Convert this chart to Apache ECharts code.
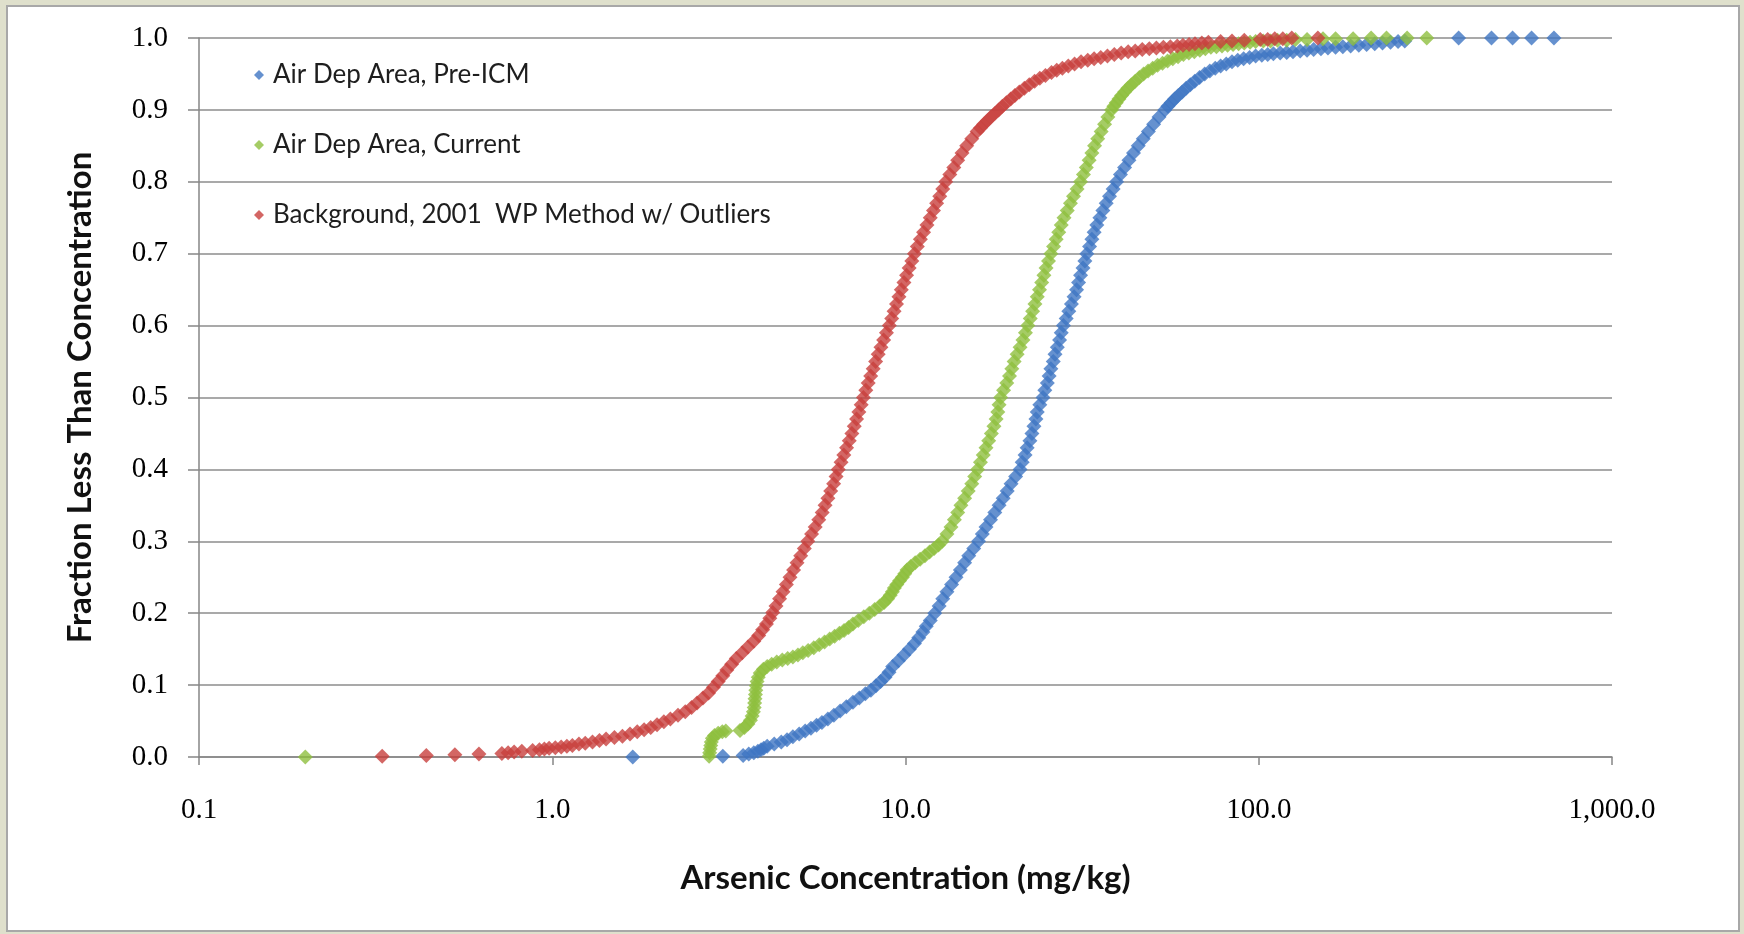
<!DOCTYPE html>
<html><head><meta charset="utf-8">
<script src="https://cdn.jsdelivr.net/npm/echarts@6/dist/echarts.min.js"></script>
<style>
html,body{margin:0;padding:0;background:#dfe0cc;width:1744px;height:934px;overflow:hidden}
#panel{position:absolute;left:6px;top:5px;width:1734px;height:927px;background:#fff;border:2px solid #a8a8a8;box-sizing:border-box}
#chart{position:absolute;left:0;top:0;width:1744px;height:934px}
</style></head><body><div id="panel"></div><div id="chart"></div>
<script>
const seriesNames = ['Air Dep Area, Pre-ICM', 'Air Dep Area, Current', 'Background, 2001  WP Method w/ Outliers'];
const xTitle = 'Arsenic Concentration (mg/kg)';
const yTitle = 'Fraction Less Than Concentration';
const xTickLabels = ['0.1', '1.0', '10.0', '100.0', '1,000.0'];
const yTickLabels = ['0.0','0.1','0.2','0.3','0.4','0.5','0.6','0.7','0.8','0.9','1.0'];
const colors = ['#3f76c3', '#8fbf3f', '#c8403d'];

// [concentration mg/kg, fraction less than]
const preICM = [[1.69,0.000],[3.04,0.001],[3.47,0.002],[3.60,0.004],[3.72,0.006],[3.82,0.008],[3.90,0.010],[3.97,0.012],[4.06,0.015],[4.25,0.018],[4.45,0.021],[4.62,0.024],[4.80,0.028],[5.00,0.032],[5.20,0.036],[5.40,0.040],[5.60,0.044],[5.80,0.048],[6.03,0.053],[6.27,0.058],[6.53,0.064],[6.80,0.070],[7.10,0.076],[7.40,0.082],[7.70,0.088],[7.98,0.093],[8.25,0.099],[8.50,0.105],[8.75,0.111],[8.98,0.118],[9.20,0.126],[9.55,0.134],[9.90,0.142],[10.25,0.150],[10.60,0.158],[10.90,0.166],[11.20,0.174],[11.45,0.182],[11.75,0.190],[12.10,0.200],[12.45,0.210],[12.75,0.220],[13.10,0.230],[13.50,0.240],[13.90,0.250],[14.30,0.260],[14.70,0.270],[15.10,0.280],[15.60,0.290],[16.10,0.300],[16.50,0.310],[16.90,0.320],[17.40,0.330],[17.90,0.340],[18.40,0.350],[18.90,0.360],[19.40,0.370],[19.90,0.380],[20.50,0.390],[21.10,0.400],[21.40,0.410],[21.80,0.420],[22.10,0.430],[22.50,0.440],[22.80,0.450],[23.10,0.460],[23.40,0.470],[23.60,0.480],[24.00,0.490],[24.50,0.500],[24.80,0.510],[25.20,0.520],[25.50,0.530],[25.80,0.540],[26.20,0.550],[26.50,0.560],[26.90,0.570],[27.30,0.580],[27.60,0.590],[28.00,0.600],[28.50,0.610],[29.00,0.620],[29.50,0.630],[30.00,0.640],[30.50,0.650],[30.90,0.660],[31.30,0.670],[31.80,0.680],[32.20,0.690],[32.60,0.700],[33.20,0.710],[33.70,0.720],[34.20,0.730],[34.80,0.740],[35.50,0.750],[36.20,0.760],[37.00,0.770],[37.80,0.780],[38.70,0.790],[39.60,0.800],[40.60,0.810],[41.70,0.820],[42.90,0.830],[44.20,0.840],[45.60,0.850],[47.10,0.860],[48.70,0.870],[50.40,0.880],[52.20,0.890],[54.20,0.900],[55.30,0.905],[56.50,0.910],[57.80,0.915],[59.20,0.920],[60.70,0.925],[62.30,0.930],[64.00,0.935],[65.90,0.940],[68.00,0.945],[70.30,0.950],[72.70,0.954],[75.30,0.958],[78.00,0.961],[80.90,0.964],[84.00,0.967],[87.20,0.969],[90.60,0.971],[94.20,0.973],[98.0,0.975],[102,0.976],[106,0.977],[110,0.978],[115,0.979],[120,0.980],[125,0.981],[131,0.982],[137,0.983],[143,0.984],[150,0.985],[157,0.986],[165,0.987],[173,0.988],[182,0.989],[192,0.990],[202,0.991],[213,0.992],[224,0.993],[236,0.994],[248,0.995],[259,0.996],[368,1.000],[456,1.000],[523,1.000],[592,1.000],[685,1.000]];

const current = [[0.20,0.000],[2.78,0.001],[2.79,0.006],[2.80,0.011],[2.81,0.016],[2.82,0.021],[2.84,0.026],[2.88,0.030],[2.95,0.033],[3.03,0.035],[3.10,0.036],[3.40,0.037],[3.50,0.041],[3.58,0.046],[3.64,0.051],[3.68,0.057],[3.71,0.063],[3.73,0.069],[3.74,0.075],[3.75,0.081],[3.76,0.087],[3.77,0.093],[3.78,0.099],[3.80,0.105],[3.83,0.111],[3.88,0.117],[3.96,0.122],[4.06,0.126],[4.18,0.129],[4.32,0.132],[4.48,0.135],[4.64,0.137],[4.80,0.139],[4.96,0.142],[5.12,0.145],[5.30,0.148],[5.50,0.152],[5.70,0.156],[5.90,0.160],[6.10,0.164],[6.30,0.168],[6.50,0.172],[6.70,0.176],[6.90,0.180],[7.10,0.185],[7.35,0.190],[7.62,0.195],[7.90,0.200],[8.18,0.205],[8.45,0.210],[8.70,0.215],[8.90,0.220],[9.05,0.225],[9.18,0.230],[9.30,0.235],[9.45,0.240],[9.62,0.245],[9.80,0.250],[9.95,0.255],[10.10,0.260],[10.35,0.265],[10.65,0.270],[11.00,0.275],[11.35,0.280],[11.70,0.285],[12.05,0.290],[12.40,0.295],[12.70,0.300],[13.10,0.310],[13.45,0.320],[13.75,0.330],[14.05,0.340],[14.35,0.350],[14.70,0.360],[15.05,0.370],[15.40,0.380],[15.70,0.390],[16.00,0.400],[16.30,0.410],[16.60,0.420],[16.90,0.430],[17.20,0.440],[17.50,0.450],[17.80,0.460],[18.05,0.470],[18.25,0.480],[18.40,0.490],[18.60,0.500],[18.95,0.510],[19.35,0.520],[19.70,0.530],[20.00,0.540],[20.30,0.550],[20.70,0.560],[21.10,0.570],[21.50,0.580],[21.85,0.590],[22.20,0.600],[22.55,0.610],[22.90,0.620],[23.25,0.630],[23.60,0.640],[23.95,0.650],[24.30,0.660],[24.65,0.670],[25.00,0.680],[25.40,0.690],[25.80,0.700],[26.25,0.710],[26.70,0.720],[27.15,0.730],[27.60,0.740],[28.10,0.750],[28.70,0.760],[29.30,0.770],[29.90,0.780],[30.60,0.790],[31.30,0.800],[31.90,0.810],[32.50,0.820],[33.10,0.830],[33.70,0.840],[34.30,0.850],[35.00,0.860],[35.80,0.870],[36.60,0.880],[37.40,0.890],[38.30,0.900],[38.90,0.905],[39.50,0.910],[40.20,0.915],[40.90,0.920],[41.70,0.925],[42.60,0.930],[43.60,0.935],[44.70,0.940],[45.90,0.945],[47.20,0.950],[48.60,0.954],[50.10,0.958],[51.70,0.962],[53.40,0.965],[55.20,0.968],[57.10,0.971],[59.10,0.974],[61.20,0.977],[63.40,0.979],[65.70,0.981],[68.10,0.983],[70.60,0.985],[73.20,0.987],[75.90,0.988],[78.70,0.989],[81.60,0.990],[84.60,0.991],[87.70,0.992],[91.00,0.993],[94.50,0.994],[98.0,0.995],[103,0.996],[108,0.996],[113,0.997],[120,0.997],[127,0.998],[137,0.998],[152,0.999],[165,0.999],[185,0.999],[208,1.000],[230,1.000],[263,1.000],[299,1.000]];

const background = [[0.33,0.001],[0.44,0.002],[0.53,0.003],[0.62,0.004],[0.72,0.005],[0.75,0.006],[0.78,0.007],[0.82,0.008],[0.88,0.009],[0.92,0.010],[0.95,0.011],[0.98,0.012],[1.02,0.013],[1.06,0.014],[1.10,0.015],[1.14,0.016],[1.19,0.018],[1.24,0.019],[1.30,0.021],[1.36,0.023],[1.42,0.025],[1.50,0.027],[1.58,0.029],[1.66,0.032],[1.74,0.035],[1.82,0.038],[1.90,0.041],[1.98,0.045],[2.07,0.049],[2.16,0.053],[2.27,0.058],[2.38,0.063],[2.48,0.069],[2.57,0.075],[2.67,0.082],[2.77,0.089],[2.86,0.097],[2.95,0.105],[3.04,0.113],[3.12,0.121],[3.22,0.129],[3.32,0.137],[3.45,0.145],[3.58,0.153],[3.72,0.161],[3.84,0.169],[3.94,0.177],[4.04,0.185],[4.13,0.193],[4.21,0.201],[4.30,0.210],[4.40,0.220],[4.50,0.230],[4.60,0.240],[4.71,0.250],[4.82,0.260],[4.93,0.270],[5.05,0.280],[5.17,0.290],[5.29,0.300],[5.42,0.310],[5.55,0.320],[5.68,0.330],[5.81,0.340],[5.92,0.350],[6.03,0.360],[6.14,0.370],[6.26,0.380],[6.36,0.390],[6.45,0.400],[6.57,0.410],[6.69,0.420],[6.81,0.430],[6.93,0.440],[7.05,0.450],[7.16,0.460],[7.27,0.470],[7.38,0.480],[7.49,0.490],[7.60,0.500],[7.72,0.510],[7.84,0.520],[7.97,0.530],[8.10,0.540],[8.23,0.550],[8.37,0.560],[8.52,0.570],[8.67,0.580],[8.83,0.590],[9.00,0.600],[9.14,0.610],[9.28,0.620],[9.43,0.630],[9.58,0.640],[9.73,0.650],[9.90,0.660],[10.07,0.670],[10.24,0.680],[10.42,0.690],[10.60,0.700],[10.80,0.710],[11.02,0.720],[11.25,0.730],[11.50,0.740],[11.75,0.750],[12.00,0.760],[12.25,0.770],[12.50,0.780],[12.75,0.790],[13.00,0.800],[13.35,0.810],[13.70,0.820],[14.05,0.830],[14.45,0.840],[14.90,0.850],[15.40,0.860],[15.95,0.870],[16.30,0.875],[16.65,0.880],[17.05,0.885],[17.45,0.890],[17.90,0.895],[18.35,0.900],[18.80,0.905],[19.30,0.910],[19.85,0.915],[20.40,0.920],[21.00,0.925],[21.70,0.930],[22.40,0.935],[23.20,0.940],[24.00,0.944],[24.90,0.948],[25.90,0.952],[26.80,0.955],[27.80,0.958],[28.90,0.961],[30.10,0.964],[31.40,0.967],[32.80,0.969],[34.20,0.971],[35.70,0.973],[37.30,0.975],[39.00,0.977],[40.80,0.979],[42.70,0.981],[44.70,0.982],[46.80,0.984],[49.00,0.985],[51.30,0.986],[53.70,0.987],[56.20,0.988],[58.80,0.989],[61.00,0.990],[63.50,0.991],[66.00,0.992],[69.00,0.993],[72.00,0.994],[78.00,0.995],[84.00,0.996],[91.00,0.997],[101,0.998],[106,0.998],[111,0.999],[117,0.999],[124,1.000],[147,1.000]];

const chart = echarts.init(document.getElementById('chart'), null, {renderer: 'canvas'});
const sans = 'Lato, "Open Sans", sans-serif';
const serif = '"Liberation Serif", "DejaVu Serif", serif';
function scatter(i, data) {
  return {
    name: seriesNames[i], type: 'scatter', data: data,
    symbol: 'diamond', symbolSize: 15,
    itemStyle: {color: colors[i]},
    emphasis: {disabled: true}, animation: false
  };
}
chart.setOption({
  backgroundColor: 'transparent',
  animation: false,
  grid: {left: 199, top: 38, width: 1413, height: 719, containLabel: false},
  legend: {
    left: 249, top: 57, orient: 'vertical', itemGap: 44,
    itemWidth: 10, itemHeight: 10, icon: 'diamond',
    textStyle: {fontFamily: sans, fontSize: 26, lineHeight: 26, color: '#1e1e1e', padding: [0, 0, 0, 4]},
    data: seriesNames, selectedMode: false
  },
  xAxis: {
    type: 'log', logBase: 10, min: 0.1, max: 1000,
    axisLine: {show: true, onZero: false, lineStyle: {color: '#868686', width: 1.5}},
    axisTick: {show: true, length: 8, lineStyle: {color: '#868686', width: 1.5}},
    minorTick: {show: false}, splitLine: {show: false},
    axisLabel: {margin: 39, fontFamily: serif, fontSize: 29, color: '#000',
      formatter: (v, i) => xTickLabels[i]},
    name: xTitle, nameLocation: 'middle', nameGap: 105,
    nameTextStyle: {fontFamily: sans, fontWeight: 'bold', fontSize: 33, color: '#111'}
  },
  yAxis: {
    type: 'value', min: 0, max: 1, interval: 0.1,
    axisLine: {show: true, lineStyle: {color: '#868686', width: 1.5}},
    axisTick: {show: true, length: 11, lineStyle: {color: '#868686', width: 1.5}},
    splitLine: {show: true, lineStyle: {color: '#8c8c8c', width: 1.5}},
    axisLabel: {margin: 31, fontFamily: serif, fontSize: 29, color: '#000',
      formatter: (v, i) => yTickLabels[i]},
    name: yTitle, nameLocation: 'middle', nameGap: 102,
    nameTextStyle: {fontFamily: sans, fontWeight: 'bold', fontSize: 33, color: '#111'}
  },
  series: [scatter(0, preICM), scatter(1, current), scatter(2, background)]
});
</script>
</body></html>
